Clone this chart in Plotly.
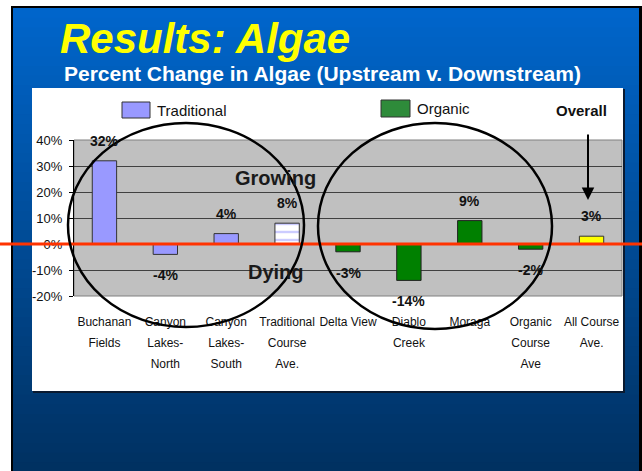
import plotly.graph_objects as go

# ---------------- data ----------------
categories = ["Buchanan Fields", "Canyon Lakes-North", "Canyon Lakes-South",
              "Traditional Course Ave.", "Delta View", "Diablo Creek", "Moraga",
              "Organic Course Ave", "All Course Ave."]
tick_labels = ["Buchanan<br>Fields", "Canyon<br>Lakes-<br>North", "Canyon<br>Lakes-<br>South",
               "Traditional<br>Course<br>Ave.", "Delta View", "Diablo<br>Creek", "Moraga",
               "Organic<br>Course<br>Ave", "All Course<br>Ave."]
trad_sites = ["Buchanan Fields", "Canyon Lakes-North", "Canyon Lakes-South"]
trad_values = [32, -4, 4]
trad_ave_site = ["Traditional Course Ave."]
trad_ave_value = [8]
organic_sites = ["Delta View", "Diablo Creek", "Moraga", "Organic Course Ave"]
organic_values = [-3, -14, 9, -2]
overall_site = ["All Course Ave."]
overall_value = [3]
y_ticks = [-20, -10, 0, 10, 20, 30, 40]
y_tick_labels = ["-20%", "-10%", "0%", "10%", "20%", "30%", "40%"]

# ---------------- geometry helpers (pixel -> paper) ----------------
W, H = 642, 471
PL, PR, PT, PB = 74, 622, 140, 296


def fx(px):
    return (px - PL) / (PR - PL)


def fy(py):
    return (PB - py) / (PB - PT)


SANS = "Liberation Sans, Arial"


def small_lines(label, size=12):
    # keep wide line spacing of the original while using a smaller glyph size
    return "<br>".join("<span style='font-size:%dpx'>%s</span>" % (size, part)
                       for part in label.split("<br>"))


fig = go.Figure()
bar_w = 0.4
fig.add_trace(go.Bar(x=trad_sites, y=trad_values, name="Traditional", width=bar_w,
                     marker=dict(color="#9999FF", line=dict(color="#333333", width=1))))
fig.add_trace(go.Bar(x=trad_ave_site, y=trad_ave_value, name="Traditional Course Ave.", width=bar_w,
                     marker=dict(color="#FFFFFF", line=dict(color="#333333", width=1),
                                 pattern=dict(shape="-", fgcolor="#9999FF", bgcolor="#FFFFFF",
                                              size=8, solidity=0.3))))
fig.add_trace(go.Bar(x=organic_sites, y=organic_values, name="Organic", width=bar_w,
                     marker=dict(color="#008000", line=dict(color="#222222", width=1))))
fig.add_trace(go.Bar(x=overall_site, y=overall_value, name="Overall", width=bar_w,
                     marker=dict(color="#FFFF00", line=dict(color="#333333", width=1))))

shapes = []
# slide border + gradient background
shapes.append(dict(type="rect", xref="paper", yref="paper", x0=fx(11), x1=fx(642), y0=fy(6), y1=fy(480),
                   fillcolor="#000000", line=dict(width=0), layer="below"))
top = (0, 102, 204)
bot = (0, 48, 96)
n = 48
y_start, y_end = 8, 472
for i in range(n):
    a = y_start + (y_end - y_start) * i / n
    b = y_start + (y_end - y_start) * (i + 1) / n + 0.6
    t = (i + 0.5) / n
    c = tuple(int(round(top[k] + (bot[k] - top[k]) * t)) for k in range(3))
    shapes.append(dict(type="rect", xref="paper", yref="paper", x0=fx(13), x1=fx(639), y0=fy(a), y1=fy(b),
                       fillcolor="rgb(%d,%d,%d)" % c, line=dict(width=0), layer="below"))
# chart area (white) with shadow
shapes.append(dict(type="rect", xref="paper", yref="paper", x0=fx(33), x1=fx(625), y0=fy(89), y1=fy(393),
                   fillcolor="#0A1A30", line=dict(width=0), layer="below"))
shapes.append(dict(type="rect", xref="paper", yref="paper", x0=fx(32), x1=fx(623), y0=fy(88), y1=fy(391),
                   fillcolor="#FFFFFF", line=dict(width=0), layer="below"))
# plot area
shapes.append(dict(type="rect", xref="paper", yref="paper", x0=0, x1=1, y0=0, y1=1,
                   fillcolor="#C0C0C0", line=dict(color="#808080", width=1), layer="below"))
# legend swatches
shapes.append(dict(type="rect", xref="paper", yref="paper", x0=fx(122), x1=fx(150), y0=fy(102), y1=fy(118),
                   fillcolor="#9999FF", line=dict(color="#333333", width=1)))
shapes.append(dict(type="rect", xref="paper", yref="paper", x0=fx(381), x1=fx(410), y0=fy(100), y1=fy(117),
                   fillcolor="#2E8B3A", line=dict(color="#333333", width=1)))
# red line at zero
shapes.append(dict(type="line", xref="paper", yref="y", x0=fx(0), x1=fx(642), y0=0, y1=0,
                   line=dict(color="#FF3300", width=3)))
# ellipses
shapes.append(dict(type="circle", xref="paper", yref="paper", x0=fx(68), x1=fx(304), y0=fy(123), y1=fy(327),
                   line=dict(color="#000000", width=2.5)))
shapes.append(dict(type="circle", xref="paper", yref="paper", x0=fx(318), x1=fx(552), y0=fy(123), y1=fy(329),
                   line=dict(color="#000000", width=2.5)))

annotations = []
# data labels
for xs, vs in [(trad_sites, trad_values), (trad_ave_site, trad_ave_value),
               (organic_sites, organic_values), (overall_site, overall_value)]:
    for xv, v in zip(xs, vs):
        annotations.append(dict(x=xv, y=v, xref="x", yref="y", text="%d%%" % v, showarrow=False,
                                yshift=20 if v >= 0 else -21, yanchor="middle",
                                font=dict(family=SANS, size=14, color="#111111", weight="bold")))
# titles
annotations.append(dict(xref="paper", yref="paper", x=fx(58), y=fy(38), xanchor="left", yanchor="middle",
                        text="Results: Algae", showarrow=False,
                        font=dict(family=SANS, size=42, color="#FFFF00", weight="bold", style="italic")))
annotations.append(dict(xref="paper", yref="paper", x=fx(322), y=fy(73), xanchor="center", yanchor="middle",
                        text="Percent Change in Algae (Upstream v. Downstream)", showarrow=False,
                        font=dict(family=SANS, size=21, color="#FFFFFF", weight="bold")))
# legend texts
annotations.append(dict(xref="paper", yref="paper", x=fx(155), y=fy(110), xanchor="left", yanchor="middle",
                        text="Traditional", showarrow=False, font=dict(family=SANS, size=15, color="#111111")))
annotations.append(dict(xref="paper", yref="paper", x=fx(415), y=fy(108), xanchor="left", yanchor="middle",
                        text="Organic", showarrow=False, font=dict(family=SANS, size=15, color="#111111")))
annotations.append(dict(xref="paper", yref="paper", x=fx(581), y=fy(110), xanchor="center", yanchor="middle",
                        text="Overall", showarrow=False,
                        font=dict(family=SANS, size=15, color="#111111", weight="bold")))
# arrow
annotations.append(dict(xref="paper", yref="paper", x=fx(588), y=fy(200), ax=0, ay=-67, text="",
                        showarrow=True, arrowhead=2, arrowsize=1.25, arrowwidth=2, arrowcolor="#000000",
                        standoff=0))
# Growing / Dying
annotations.append(dict(xref="paper", yref="paper", x=fx(275), y=fy(178), xanchor="center", yanchor="middle",
                        text="Growing", showarrow=False,
                        font=dict(family=SANS, size=20, color="#1A1A1A", weight="bold")))
annotations.append(dict(xref="paper", yref="paper", x=fx(276), y=fy(272), xanchor="center", yanchor="middle",
                        text="Dying", showarrow=False,
                        font=dict(family=SANS, size=20, color="#1A1A1A", weight="bold")))

fig.update_layout(
    width=W, height=H, autosize=False,
    margin=dict(l=PL, r=W - PR, t=PT, b=H - PB, pad=0),
    paper_bgcolor="#FFFFFF", plot_bgcolor="rgba(0,0,0,0)",
    barmode="overlay", showlegend=False,
    shapes=shapes, annotations=annotations,
    xaxis=dict(type="category", categoryorder="array", categoryarray=categories,
               tickvals=categories, ticktext=[small_lines(s) for s in tick_labels],
               showgrid=False, showline=False,
               ticks="", ticklabelstandoff=12, zeroline=False, tickangle=0, automargin=False,
               tickfont=dict(family=SANS, size=16.5, color="#111111")),
    yaxis=dict(range=[-20, 40], tickvals=y_ticks, ticktext=y_tick_labels, showgrid=True,
               gridcolor="#404040", gridwidth=1, zeroline=True, zerolinecolor="#000000",
               showline=True, linecolor="#000000", linewidth=1, ticks="outside", ticklen=4,
               tickcolor="#000000", ticklabelstandoff=4, automargin=False,
               tickfont=dict(family=SANS, size=13, color="#111111")),
)

fig.write_html("out.html", config={"displayModeBar": False},
               post_script="document.body.style.margin='0';document.body.style.overflow='hidden';")
